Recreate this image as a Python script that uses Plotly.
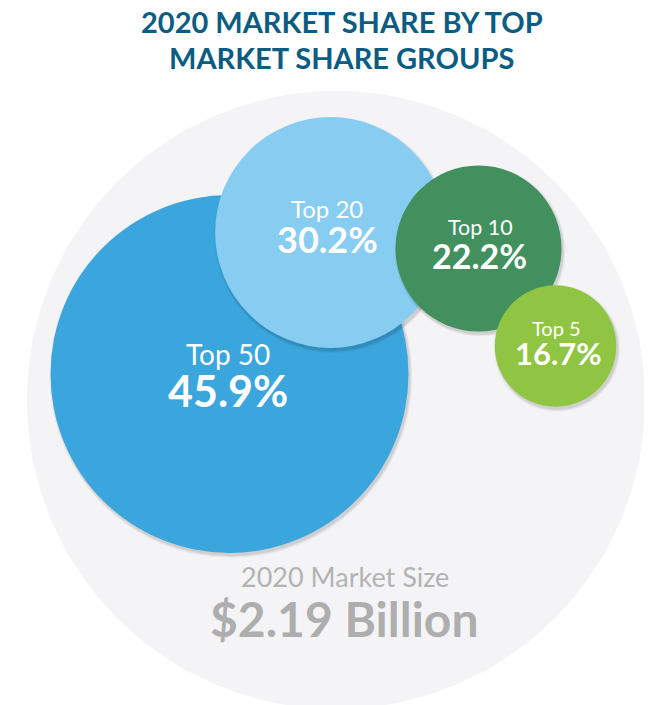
import plotly.graph_objects as go

# ---- data ----
groups = ["Top 50", "Top 20", "Top 10", "Top 5"]
shares = [45.9, 30.2, 22.2, 16.7]
colors = ["#3ba5dd", "#87cdf2", "#41905d", "#8fc543"]
market_label = "2020 Market Size"
market_value = "$2.19 Billion"
title_lines = ["2020 MARKET SHARE BY TOP", "MARKET SHARE GROUPS"]

# ---- layout (page-pixel positions; axes map 1 unit = 1 px) ----
centers_x = [229.5, 330.5, 478.5, 555.5]
centers_y = [374, 232.5, 248.5, 346]
top_label_xy = [(228, 355), (327, 209.5), (480, 228), (556.5, 328.5)]
val_label_xy = [(227.5, 392), (327, 240.5), (479.5, 257), (558, 354)]
top_font = [28, 24, 21.5, 20]
val_font = [43, 36, 34, 31]

PAGE_OFFSET = 8          # default body margin of the html page
W, H = 652, 705


def radius(share):
    # linear scale from share to circle radius (px)
    return 4.05 * share - 6.9


fig = go.Figure()

# background market circle
fig.add_trace(go.Scatter(x=[336], y=[400], mode="markers",
                         marker=dict(size=618, color="#f4f4f6", line=dict(width=0)),
                         hoverinfo="skip", showlegend=False))

for g, s, c, cx, cy in zip(groups, shares, colors, centers_x, centers_y):
    d = 2 * radius(s)
    # soft drop shadow
    for extra, op in [(5, 0.035), (3, 0.05), (1, 0.07)]:
        fig.add_trace(go.Scatter(x=[cx + 1.5], y=[cy + 2.5], mode="markers",
                                 marker=dict(size=d + extra, color=f"rgba(0,0,0,{op})",
                                             line=dict(width=0)),
                                 hoverinfo="skip", showlegend=False))
    fig.add_trace(go.Scatter(x=[cx], y=[cy], mode="markers", name=g,
                             marker=dict(size=d, color=c, line=dict(width=0)),
                             hovertemplate=f"{g}: {s}%<extra></extra>", showlegend=False))

annotations = []
for g, s, (tx, ty), (vx, vy), ft, fv in zip(groups, shares, top_label_xy, val_label_xy,
                                            top_font, val_font):
    annotations.append(dict(x=tx, y=ty - 0.03 * ft, text=g, showarrow=False,
                            font=dict(family="Lato", size=ft, color="white"),
                            xanchor="center", yanchor="middle"))
    annotations.append(dict(x=vx, y=vy - 0.03 * fv, text=f"<b>{s}%</b>", showarrow=False,
                            font=dict(family="Lato", size=fv, color="white"),
                            xanchor="center", yanchor="middle"))

annotations.append(dict(x=345, y=577.5 - 0.8, text=market_label, showarrow=False,
                        font=dict(family="Lato", size=27, color="#b3b3b3"),
                        xanchor="center", yanchor="middle"))
annotations.append(dict(x=344.5, y=619.5 - 1.5, text=f"<b>{market_value}</b>", showarrow=False,
                        font=dict(family="Lato", size=48, color="#aeaeae"),
                        xanchor="center", yanchor="middle"))
for i, t in enumerate(title_lines):
    annotations.append(dict(x=341.5, y=22.5 + 36 * i - 1, text=f"<b>{t}</b>", showarrow=False,
                            font=dict(family="Lato", size=29, color="#0b5c82"),
                            xanchor="center", yanchor="middle"))

fig.update_layout(
    width=W - PAGE_OFFSET, height=H - PAGE_OFFSET,
    margin=dict(l=0, r=0, t=0, b=0),
    paper_bgcolor="white", plot_bgcolor="white",
    xaxis=dict(range=[PAGE_OFFSET, W], visible=False, fixedrange=True),
    yaxis=dict(range=[H, PAGE_OFFSET], visible=False, fixedrange=True),
    annotations=annotations,
)

fig.write_html("out.html")
